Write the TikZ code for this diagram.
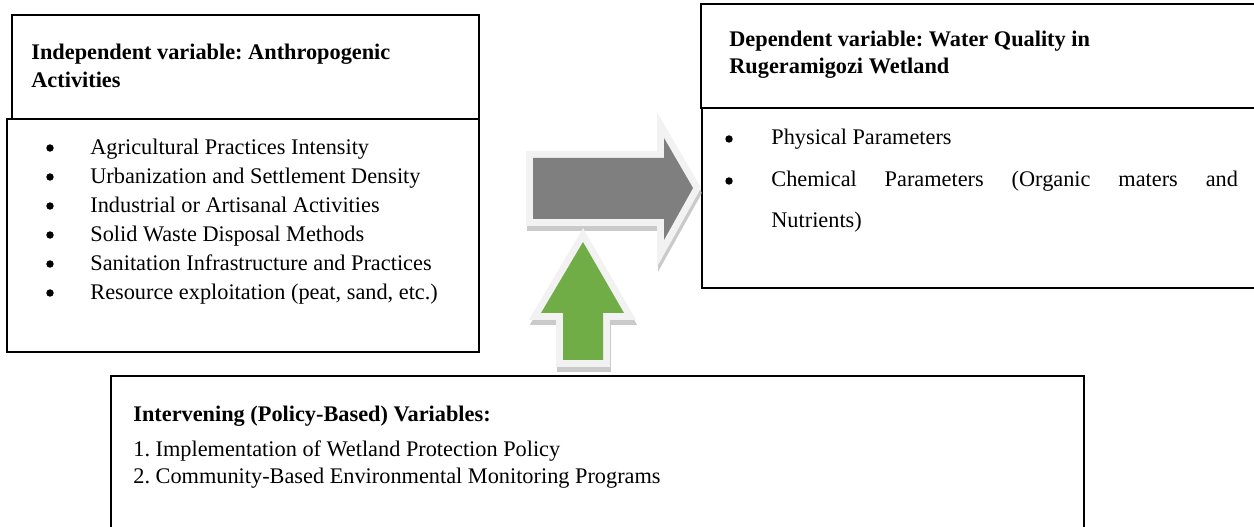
\documentclass[tikz,border=0pt]{standalone}
\usepackage{fontspec}
\setmainfont{Liberation Serif}
\usetikzlibrary{fit}

\definecolor{arrowgray}{HTML}{7F7F7F}
\definecolor{arrowgreen}{HTML}{70AD47}
\definecolor{rim}{HTML}{F2F2F2}
\definecolor{shade}{HTML}{B4B4B4}

% block arrow outlines, in picture units
\newcommand{\grayarrowpath}{(533,158) -- (664,158) -- (664,138) -- (693,188) -- (664,240) -- (664,219) -- (533,219) -- cycle}
\newcommand{\greenarrowpath}{(583,242) -- (624,313) -- (603,313) -- (603,360) -- (563,360) -- (563,313) -- (541,313) -- cycle}

\frenchspacing

\begin{document}
\begin{tikzpicture}[
        x=0.538pt, y=-0.538pt,
        box/.style={draw=black, line width=1.1pt, inner sep=0pt},
        txt/.style={anchor=base west, inner sep=0pt, font=\fontsize{12}{15}\selectfont},
        head/.style={txt, font=\fontsize{12}{15}\selectfont\bfseries},
        dot/.style={circle, fill=black, inner sep=0pt, minimum size=4pt},
        shadow/.style={draw=shade, fill=shade, line width=7.5pt, line join=miter, opacity=0.7},
        rimmed/.style={draw=rim, line width=7.5pt, line join=miter}
    ]

        \useasboundingbox (0,0) rectangle (1254,527);
        \clip (0,0) rectangle (1254,527);

        % independent variable
        \node[box, fit={(12,15) (479,119)}] (indep) {};
        \node[box, fit={(7,119) (479,352)}] (indeplist) {};
        \node[head] (indep_t1) at (31,60) {Independent variable: Anthropogenic};
        \node[head] (indep_t2) at (31,88) {Activities};
        \foreach \item [count=\i] in {Agricultural Practices Intensity,
                Urbanization and Settlement Density,
                Industrial or Artisanal Activities,
                Solid Waste Disposal Methods,
                Sanitation Infrastructure and Practices,
                {Resource exploitation (peat, sand, etc.)}} {
            \node[dot] (act_dot\i) at (50,119+29*\i) {};
            \node[txt] (act\i) at (90,126+29*\i) {\item};
        }

        % dependent variable
        \node[box, fit={(701,4) (1270,108)}] (dep) {};
        \node[box, fit={(702,108) (1270,288)}] (deplist) {};
        \node[head] (dep_t1) at (729,47) {Dependent variable: Water Quality in};
        \node[head] (dep_t2) at (729,74) {Rugeramigozi Wetland};
        \node[dot] (par_dot1) at (729,139) {};
        \node[txt] (par1) at (771,145) {Physical Parameters};
        \node[dot] (par_dot2) at (729,181) {};
        \node[txt] (par2) at (771,187) {\makebox[251pt][s]{Chemical Parameters (Organic maters and}};
        \node[txt] (par2b) at (771,228) {Nutrients)};

        % intervening variables
        \node[box, line width=1.3pt, fit={(111,376) (1084,540)}] (inter) {};
        \node[head] (inter_t) at (133,421) {Intervening (Policy-Based) Variables:};
        \node[txt] (pol1) at (133,456) {1. Implementation of Wetland Protection Policy};
        \node[txt] (pol2) at (133,483) {2. Community-Based Environmental Monitoring Programs};

        % block arrows
        \draw[shadow, shift={(1,5)}] \grayarrowpath;
        \draw[rimmed] \grayarrowpath;
        \fill[arrowgray] \grayarrowpath;

        \draw[shadow, shift={(1,5)}] \greenarrowpath;
        \draw[rimmed] \greenarrowpath;
        \fill[arrowgreen] \greenarrowpath;
    \end{tikzpicture}
\end{document}
